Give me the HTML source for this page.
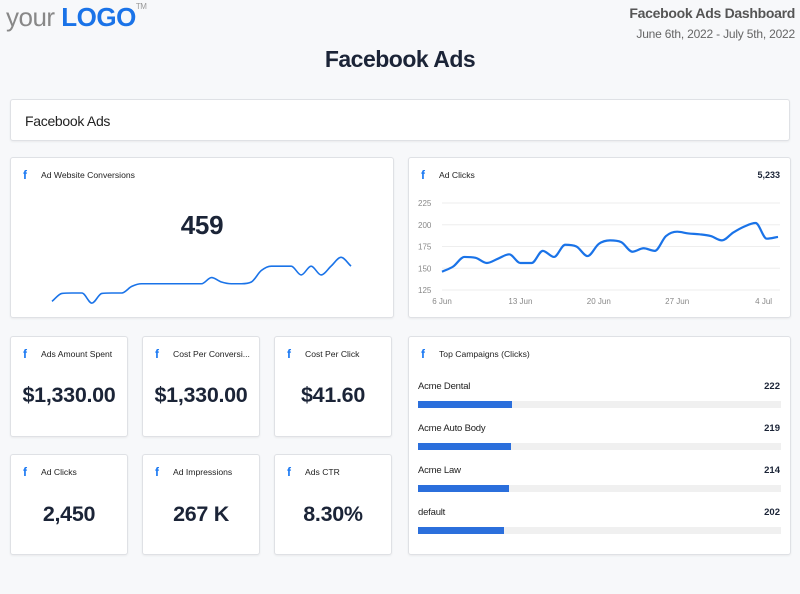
<!DOCTYPE html>
<html><head><meta charset="utf-8"><style>
*{box-sizing:border-box;margin:0;padding:0}
body{width:800px;height:594px;background:#f7f8fa;font-family:"Liberation Sans",sans-serif;position:relative;overflow:hidden;color:#1b2437}
.abs{position:absolute}
.card{position:absolute;background:#fff;border:1px solid #dfe1e5;border-radius:3px;box-shadow:0 1px 2px rgba(0,0,0,.06)}
.fb{position:absolute;color:#1877f2;font-weight:bold;font-size:12px;font-family:"Liberation Sans",sans-serif}
.ct{position:absolute;font-size:8.6px;color:#222}
.big{position:absolute;left:0;right:0;text-align:center;font-weight:bold;font-size:21.5px;color:#1b2437;letter-spacing:-0.3px}
</style></head><body>
<div class="abs" style="left:6px;top:2px;font-size:26px;color:#888;letter-spacing:-0.5px">your<span style="color:#1a73e8;font-weight:bold"> LOGO</span><sup style="font-size:8px;color:#999;vertical-align:top">TM</sup></div>
<div class="abs" style="right:5px;top:5px;font-size:14px;font-weight:bold;color:#555;letter-spacing:-0.3px">Facebook Ads Dashboard</div>
<div class="abs" style="right:5px;top:27px;font-size:12px;color:#666;letter-spacing:-0.2px">June 6th, 2022 - July 5th, 2022</div>
<div class="abs" style="left:0;right:0;top:46px;text-align:center;font-size:23px;font-weight:bold;color:#1b2437;letter-spacing:-0.5px">Facebook Ads</div>
<div class="card" style="left:10px;top:99px;width:780px;height:42px"><div class="abs" style="left:14px;top:13px;font-size:14px;color:#222;letter-spacing:-0.3px">Facebook Ads</div></div>

<div class="card" style="left:10px;top:157px;width:384px;height:161px">
<div class="fb" style="left:12px;top:10px">f</div><div class="ct" style="left:30px;top:12px">Ad Website Conversions</div>
<div class="big" style="top:52px;font-size:26px">459</div>
<svg class="abs" style="left:0;top:0" width="384" height="161" id="spark"></svg>
</div>

<div class="card" style="left:408px;top:157px;width:383px;height:161px">
<div class="fb" style="left:12px;top:10px">f</div><div class="ct" style="left:30px;top:12px">Ad Clicks</div>
<div class="abs" style="right:10px;top:12px;font-size:9px;font-weight:bold">5,233</div>
</div>
<svg class="abs" style="left:0;top:0" width="800" height="594" id="clicks"></svg>

<div class="card" style="left:10px;top:336px;width:118px;height:101px"><div class="fb" style="left:12px;top:10px">f</div><div class="ct" style="left:30px;top:12px">Ads Amount Spent</div><div class="big" style="top:46px">$1,330.00</div></div>
<div class="card" style="left:142px;top:336px;width:118px;height:101px"><div class="fb" style="left:12px;top:10px">f</div><div class="ct" style="left:30px;top:12px">Cost Per Conversi...</div><div class="big" style="top:46px">$1,330.00</div></div>
<div class="card" style="left:274px;top:336px;width:118px;height:101px"><div class="fb" style="left:12px;top:10px">f</div><div class="ct" style="left:30px;top:12px">Cost Per Click</div><div class="big" style="top:46px">$41.60</div></div>
<div class="card" style="left:10px;top:454px;width:118px;height:101px"><div class="fb" style="left:12px;top:10px">f</div><div class="ct" style="left:30px;top:12px">Ad Clicks</div><div class="big" style="top:47px">2,450</div></div>
<div class="card" style="left:142px;top:454px;width:118px;height:101px"><div class="fb" style="left:12px;top:10px">f</div><div class="ct" style="left:30px;top:12px">Ad Impressions</div><div class="big" style="top:47px">267 K</div></div>
<div class="card" style="left:274px;top:454px;width:118px;height:101px"><div class="fb" style="left:12px;top:10px">f</div><div class="ct" style="left:30px;top:12px">Ads CTR</div><div class="big" style="top:47px">8.30%</div></div>

<div class="card" style="left:408px;top:336px;width:383px;height:219px">
<div class="fb" style="left:12px;top:10px">f</div><div class="ct" style="left:30px;top:12px">Top Campaigns (Clicks)</div>
<div id="camps"></div>
</div>

<script>
const clickDates=["6 Jun","13 Jun","20 Jun","27 Jun","4 Jul"];
const clickTicks=[125,150,175,200,225];
const clickValues=[146,152,163,162,156,161,166,156,156,170,163,177,175,164,178,182,180,169,173,170,187,192,190,189,187,182,191,198,202,184,186];
const sparkValues=[0.3,1.2,1.25,1.25,0.1,1.2,1.25,1.25,2.0,2.3,2.3,2.3,2.3,2.3,2.3,2.3,3.0,2.5,2.3,2.3,2.5,3.8,4.3,4.3,4.3,3.3,4.3,3.3,4.3,5.3,4.3];
const campNames=["Acme Dental","Acme Auto Body","Acme Law","default"];
const campValues=[222,219,214,202];
const campMax=857;
const NS="http://www.w3.org/2000/svg";
function smooth(p){
 const n=p.length,d=[],m=[];
 for(let i=0;i<n-1;i++)d.push((p[i+1][1]-p[i][1])/(p[i+1][0]-p[i][0]));
 m[0]=d[0];m[n-1]=d[n-2];
 for(let i=1;i<n-1;i++)m[i]=(d[i-1]*d[i]<=0)?0:(d[i-1]+d[i])/2;
 for(let i=0;i<n-1;i++){if(d[i]===0){m[i]=0;m[i+1]=0;continue;}const a=m[i]/d[i],b=m[i+1]/d[i],s=a*a+b*b;if(s>9){const t=3/Math.sqrt(s);m[i]=t*a*d[i];m[i+1]=t*b*d[i];}}
 let s="M"+p[0][0]+","+p[0][1];
 for(let i=0;i<n-1;i++){const h=(p[i+1][0]-p[i][0])/3;s+=" C"+(p[i][0]+h)+","+(p[i][1]+m[i]*h)+" "+(p[i+1][0]-h)+","+(p[i+1][1]-m[i+1]*h)+" "+p[i+1][0]+","+p[i+1][1];}
 return s;}
const cs=document.getElementById('clicks');
const cx=i=>442+i*11.2, cy=v=>290-(v-125)*0.87;
clickTicks.forEach(t=>{
 const l=document.createElementNS(NS,'line');
 
 
 l.setAttribute('x1',442);l.setAttribute('x2',780);l.setAttribute('y1',cy(t));l.setAttribute('y2',cy(t));l.setAttribute('stroke','#eee');cs.appendChild(l);
 const tx=document.createElementNS(NS,'text');
 
 
 tx.setAttribute('x',418);tx.setAttribute('y',cy(t)+3);tx.setAttribute('font-size','8');tx.setAttribute('fill','#888');tx.textContent=t;cs.appendChild(tx);
});
clickDates.forEach((d,k)=>{
 const tx=document.createElementNS(NS,'text');
 
 
 tx.setAttribute('x',cx(k*7)+(k===4?8:0));tx.setAttribute('y',304);tx.setAttribute('font-size','8');tx.setAttribute('fill','#888');tx.setAttribute('text-anchor','middle');tx.textContent=d;cs.appendChild(tx);
});
const cp=document.createElementNS(NS,'path');


cp.setAttribute('d',smooth(clickValues.map((v,i)=>[cx(i),cy(v)])));cp.setAttribute('fill','none');cp.setAttribute('stroke','#1a73e8');cp.setAttribute('stroke-width','2.2');cs.appendChild(cp);
const sp=document.getElementById('spark');
const sx=i=>41+i*(299/30), sy=v=>146-v*8.8;
const spp=document.createElementNS(NS,'path');


spp.setAttribute('d',smooth(sparkValues.map((v,i)=>[sx(i),sy(v)])));spp.setAttribute('fill','none');spp.setAttribute('stroke','#1a73e8');spp.setAttribute('stroke-width','1.6');sp.appendChild(spp);
const cc=document.getElementById('camps');
campNames.forEach((n,i)=>{
 const top=44+i*42;
 const lab=document.createElement('div');
 
 
 lab.className='abs';lab.style.cssText=`left:9px;top:${top}px;font-size:9.5px;color:#222;letter-spacing:-0.2px`;lab.textContent=n;cc.appendChild(lab);
 const val=document.createElement('div');
 
 
 val.className='abs';val.style.cssText=`right:10px;top:${top}px;font-size:9.5px;font-weight:bold`;val.textContent=campValues[i];cc.appendChild(val);
 const tr=document.createElement('div');
 
 
 tr.className='abs';tr.style.cssText=`left:9px;top:${top+20}px;width:363px;height:7px;background:#f0f0f0`;
 const b=document.createElement('div');
 
 
 b.style.cssText=`width:${campValues[i]/campMax*363}px;height:7px;background:#2b6fdc`;
 tr.appendChild(b);cc.appendChild(tr);
});
</script>
</body></html>
